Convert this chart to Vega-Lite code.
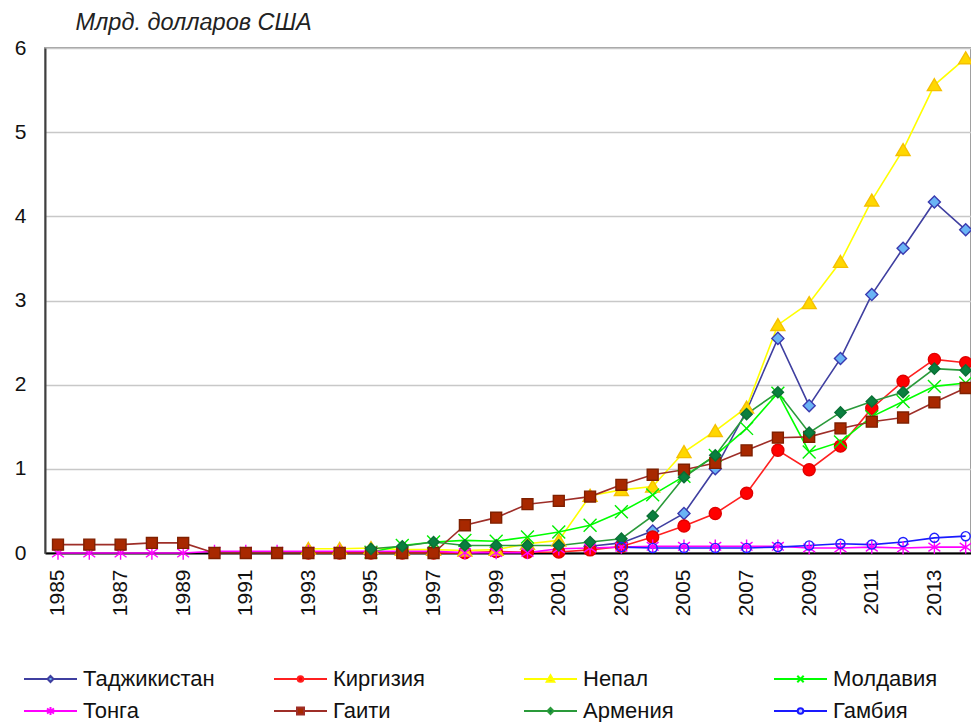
{
  "$schema": "https://vega.github.io/schema/vega-lite/v6.json",
  "autosize": {"type": "none"},
  "padding": {"left": 45, "top": 48, "right": 0, "bottom": 169},
  "width": 926,
  "height": 505,
  "background": "white",
  "config": {
    "view": {"stroke": "#A0A0A0", "strokeWidth": 2},
    "font": "Liberation Sans",
    "legend": {
      "title": null,
      "orient": "none",
      "legendX": -5.5,
      "legendY": 620,
      "direction": "horizontal",
      "columns": 4,
      "gridAlign": "all",
      "columnPadding": 54,
      "rowPadding": 10,
      "padding": 0,
      "symbolSize": 400,
      "symbolStrokeWidth": 2,
      "symbolFillColor": "transparent",
      "symbolStrokeColor": "black",
      "symbolOpacity": 1,
      "labelFont": "Liberation Sans",
      "labelFontSize": 22,
      "labelColor": "#111111",
      "labelOffset": 21.5,
      "labelLimit": 300
    }
  },
  "datasets": {
    "d": [
      {"country": "Таджикистан", "year": 2002, "value": 0.08},
      {"country": "Таджикистан", "year": 2003, "value": 0.12},
      {"country": "Таджикистан", "year": 2004, "value": 0.26},
      {"country": "Таджикистан", "year": 2005, "value": 0.47},
      {"country": "Таджикистан", "year": 2006, "value": 1.0},
      {"country": "Таджикистан", "year": 2007, "value": 1.69},
      {"country": "Таджикистан", "year": 2008, "value": 2.55},
      {"country": "Таджикистан", "year": 2009, "value": 1.75},
      {"country": "Таджикистан", "year": 2010, "value": 2.31},
      {"country": "Таджикистан", "year": 2011, "value": 3.07},
      {"country": "Таджикистан", "year": 2012, "value": 3.62},
      {"country": "Таджикистан", "year": 2013, "value": 4.17},
      {"country": "Таджикистан", "year": 2014, "value": 3.84},

      {"country": "Киргизия", "year": 1993, "value": 0.001},
      {"country": "Киргизия", "year": 1994, "value": 0.001},
      {"country": "Киргизия", "year": 1995, "value": 0.001},
      {"country": "Киргизия", "year": 1996, "value": 0.001},
      {"country": "Киргизия", "year": 1997, "value": 0.001},
      {"country": "Киргизия", "year": 1998, "value": 0.002},
      {"country": "Киргизия", "year": 1999, "value": 0.018},
      {"country": "Киргизия", "year": 2000, "value": 0.009},
      {"country": "Киргизия", "year": 2001, "value": 0.011},
      {"country": "Киргизия", "year": 2002, "value": 0.037},
      {"country": "Киргизия", "year": 2003, "value": 0.078},
      {"country": "Киргизия", "year": 2004, "value": 0.19},
      {"country": "Киргизия", "year": 2005, "value": 0.32},
      {"country": "Киргизия", "year": 2006, "value": 0.47},
      {"country": "Киргизия", "year": 2007, "value": 0.71},
      {"country": "Киргизия", "year": 2008, "value": 1.22},
      {"country": "Киргизия", "year": 2009, "value": 0.99},
      {"country": "Киргизия", "year": 2010, "value": 1.27},
      {"country": "Киргизия", "year": 2011, "value": 1.72},
      {"country": "Киргизия", "year": 2012, "value": 2.04},
      {"country": "Киргизия", "year": 2013, "value": 2.3},
      {"country": "Киргизия", "year": 2014, "value": 2.26},

      {"country": "Непал", "year": 1993, "value": 0.05},
      {"country": "Непал", "year": 1994, "value": 0.05},
      {"country": "Непал", "year": 1995, "value": 0.06},
      {"country": "Непал", "year": 1996, "value": 0.04},
      {"country": "Непал", "year": 1997, "value": 0.04},
      {"country": "Непал", "year": 1998, "value": 0.03},
      {"country": "Непал", "year": 1999, "value": 0.04},
      {"country": "Непал", "year": 2000, "value": 0.11},
      {"country": "Непал", "year": 2001, "value": 0.15},
      {"country": "Непал", "year": 2002, "value": 0.68},
      {"country": "Непал", "year": 2003, "value": 0.75},
      {"country": "Непал", "year": 2004, "value": 0.79},
      {"country": "Непал", "year": 2005, "value": 1.2},
      {"country": "Непал", "year": 2006, "value": 1.45},
      {"country": "Непал", "year": 2007, "value": 1.73},
      {"country": "Непал", "year": 2008, "value": 2.71},
      {"country": "Непал", "year": 2009, "value": 2.97},
      {"country": "Непал", "year": 2010, "value": 3.46},
      {"country": "Непал", "year": 2011, "value": 4.19},
      {"country": "Непал", "year": 2012, "value": 4.79},
      {"country": "Непал", "year": 2013, "value": 5.56},
      {"country": "Непал", "year": 2014, "value": 5.88},

      {"country": "Молдавия", "year": 1995, "value": 0.01},
      {"country": "Молдавия", "year": 1996, "value": 0.09},
      {"country": "Молдавия", "year": 1997, "value": 0.13},
      {"country": "Молдавия", "year": 1998, "value": 0.15},
      {"country": "Молдавия", "year": 1999, "value": 0.14},
      {"country": "Молдавия", "year": 2000, "value": 0.19},
      {"country": "Молдавия", "year": 2001, "value": 0.25},
      {"country": "Молдавия", "year": 2002, "value": 0.33},
      {"country": "Молдавия", "year": 2003, "value": 0.49},
      {"country": "Молдавия", "year": 2004, "value": 0.69},
      {"country": "Молдавия", "year": 2005, "value": 0.91},
      {"country": "Молдавия", "year": 2006, "value": 1.16},
      {"country": "Молдавия", "year": 2007, "value": 1.48},
      {"country": "Молдавия", "year": 2008, "value": 1.9},
      {"country": "Молдавия", "year": 2009, "value": 1.2},
      {"country": "Молдавия", "year": 2010, "value": 1.32},
      {"country": "Молдавия", "year": 2011, "value": 1.62},
      {"country": "Молдавия", "year": 2012, "value": 1.8},
      {"country": "Молдавия", "year": 2013, "value": 1.98},
      {"country": "Молдавия", "year": 2014, "value": 2.02},

      {"country": "Тонга", "year": 1985, "value": 0.0},
      {"country": "Тонга", "year": 1986, "value": 0.0},
      {"country": "Тонга", "year": 1987, "value": 0.0},
      {"country": "Тонга", "year": 1988, "value": 0.0},
      {"country": "Тонга", "year": 1989, "value": 0.0},
      {"country": "Тонга", "year": 1990, "value": 0.02},
      {"country": "Тонга", "year": 1991, "value": 0.02},
      {"country": "Тонга", "year": 1992, "value": 0.02},
      {"country": "Тонга", "year": 1993, "value": 0.02},
      {"country": "Тонга", "year": 1994, "value": 0.02},
      {"country": "Тонга", "year": 1995, "value": 0.02},
      {"country": "Тонга", "year": 1996, "value": 0.02},
      {"country": "Тонга", "year": 1997, "value": 0.02},
      {"country": "Тонга", "year": 1998, "value": 0.005},
      {"country": "Тонга", "year": 1999, "value": 0.005},
      {"country": "Тонга", "year": 2000, "value": 0.005},
      {"country": "Тонга", "year": 2001, "value": 0.05},
      {"country": "Тонга", "year": 2002, "value": 0.06},
      {"country": "Тонга", "year": 2003, "value": 0.07},
      {"country": "Тонга", "year": 2004, "value": 0.08},
      {"country": "Тонга", "year": 2005, "value": 0.08},
      {"country": "Тонга", "year": 2006, "value": 0.08},
      {"country": "Тонга", "year": 2007, "value": 0.08},
      {"country": "Тонга", "year": 2008, "value": 0.08},
      {"country": "Тонга", "year": 2009, "value": 0.06},
      {"country": "Тонга", "year": 2010, "value": 0.06},
      {"country": "Тонга", "year": 2011, "value": 0.07},
      {"country": "Тонга", "year": 2012, "value": 0.06},
      {"country": "Тонга", "year": 2013, "value": 0.07},
      {"country": "Тонга", "year": 2014, "value": 0.07},

      {"country": "Гаити", "year": 1985, "value": 0.1},
      {"country": "Гаити", "year": 1986, "value": 0.1},
      {"country": "Гаити", "year": 1987, "value": 0.1},
      {"country": "Гаити", "year": 1988, "value": 0.12},
      {"country": "Гаити", "year": 1989, "value": 0.12},
      {"country": "Гаити", "year": 1990, "value": 0.0},
      {"country": "Гаити", "year": 1991, "value": 0.0},
      {"country": "Гаити", "year": 1992, "value": 0.0},
      {"country": "Гаити", "year": 1993, "value": 0.0},
      {"country": "Гаити", "year": 1994, "value": 0.0},
      {"country": "Гаити", "year": 1995, "value": 0.0},
      {"country": "Гаити", "year": 1996, "value": 0.0},
      {"country": "Гаити", "year": 1997, "value": 0.0},
      {"country": "Гаити", "year": 1998, "value": 0.33},
      {"country": "Гаити", "year": 1999, "value": 0.42},
      {"country": "Гаити", "year": 2000, "value": 0.58},
      {"country": "Гаити", "year": 2001, "value": 0.62},
      {"country": "Гаити", "year": 2002, "value": 0.67},
      {"country": "Гаити", "year": 2003, "value": 0.81},
      {"country": "Гаити", "year": 2004, "value": 0.93},
      {"country": "Гаити", "year": 2005, "value": 0.99},
      {"country": "Гаити", "year": 2006, "value": 1.07},
      {"country": "Гаити", "year": 2007, "value": 1.22},
      {"country": "Гаити", "year": 2008, "value": 1.37},
      {"country": "Гаити", "year": 2009, "value": 1.38},
      {"country": "Гаити", "year": 2010, "value": 1.48},
      {"country": "Гаити", "year": 2011, "value": 1.56},
      {"country": "Гаити", "year": 2012, "value": 1.61},
      {"country": "Гаити", "year": 2013, "value": 1.79},
      {"country": "Гаити", "year": 2014, "value": 1.96},

      {"country": "Армения", "year": 1995, "value": 0.05},
      {"country": "Армения", "year": 1996, "value": 0.08},
      {"country": "Армения", "year": 1997, "value": 0.13},
      {"country": "Армения", "year": 1998, "value": 0.09},
      {"country": "Армения", "year": 1999, "value": 0.09},
      {"country": "Армения", "year": 2000, "value": 0.09},
      {"country": "Армения", "year": 2001, "value": 0.09},
      {"country": "Армения", "year": 2002, "value": 0.13},
      {"country": "Армения", "year": 2003, "value": 0.17},
      {"country": "Армения", "year": 2004, "value": 0.44},
      {"country": "Армения", "year": 2005, "value": 0.9},
      {"country": "Армения", "year": 2006, "value": 1.16},
      {"country": "Армения", "year": 2007, "value": 1.65},
      {"country": "Армения", "year": 2008, "value": 1.91},
      {"country": "Армения", "year": 2009, "value": 1.43},
      {"country": "Армения", "year": 2010, "value": 1.67},
      {"country": "Армения", "year": 2011, "value": 1.8},
      {"country": "Армения", "year": 2012, "value": 1.91},
      {"country": "Армения", "year": 2013, "value": 2.19},
      {"country": "Армения", "year": 2014, "value": 2.17},

      {"country": "Гамбия", "year": 2003, "value": 0.07},
      {"country": "Гамбия", "year": 2004, "value": 0.06},
      {"country": "Гамбия", "year": 2005, "value": 0.06},
      {"country": "Гамбия", "year": 2006, "value": 0.06},
      {"country": "Гамбия", "year": 2007, "value": 0.06},
      {"country": "Гамбия", "year": 2008, "value": 0.07},
      {"country": "Гамбия", "year": 2009, "value": 0.09},
      {"country": "Гамбия", "year": 2010, "value": 0.11},
      {"country": "Гамбия", "year": 2011, "value": 0.1},
      {"country": "Гамбия", "year": 2012, "value": 0.13},
      {"country": "Гамбия", "year": 2013, "value": 0.18},
      {"country": "Гамбия", "year": 2014, "value": 0.2}
    ]
  },
  "data": {"name": "d"},
  "encoding": {
    "x": {
      "field": "year",
      "type": "quantitative",
      "scale": {"domain": [1984.585, 2014.17], "nice": false, "zero": false},
      "axis": {
        "title": null,
        "values": [1985, 1987, 1989, 1991, 1993, 1995, 1997, 1999, 2001, 2003, 2005, 2007, 2009, 2011, 2013],
        "format": "d",
        "labelAngle": -90,
        "labelFont": "Liberation Sans",
        "labelFontSize": 21,
        "labelColor": "#111111",
        "labelPadding": 16,
        "ticks": false,
        "grid": false,
        "domainColor": "#000000",
        "domainWidth": 2,
        "labelOverlap": false
      }
    },
    "y": {
      "field": "value",
      "type": "quantitative",
      "scale": {"domain": [0, 6], "nice": false},
      "axis": {
        "title": "Млрд. долларов США",
        "titleAngle": 0,
        "titleAlign": "left",
        "titleBaseline": "alphabetic",
        "titleX": 30,
        "titleY": -19,
        "titleFont": "Liberation Sans",
        "titleFontSize": 23.5,
        "titleFontStyle": "italic",
        "titleFontWeight": "normal",
        "titleColor": "#222222",
        "values": [0, 1, 2, 3, 4, 5, 6],
        "labelFont": "Liberation Sans",
        "labelFontSize": 21,
        "labelColor": "#111111",
        "labelPadding": 19,
        "ticks": false,
        "grid": true,
        "gridColor": "#C8C8C8",
        "gridWidth": 1.5,
        "domainColor": "#404040",
        "domainWidth": 2
      }
    }
  },
  "layer": [
    {
      "mark": {"type": "line", "strokeWidth": 1.6},
      "encoding": {
        "color": {
          "field": "country",
          "type": "nominal",
          "scale": {
            "domain": ["Таджикистан", "Киргизия", "Непал", "Молдавия", "Тонга", "Гаити", "Армения", "Гамбия"],
            "range": ["#3F3FA0", "#FF2020", "#FFFF00", "#00FF00", "#FF00FF", "#9E2E28", "#2A9A3A", "#1A1AFF"]
          },
          "legend": null
        }
      }
    },
    {
      "mark": {"type": "point", "filled": true, "size": 196, "strokeWidth": 1.4, "opacity": 1},
      "encoding": {
        "shape": {
          "field": "country",
          "type": "nominal",
          "scale": {
            "domain": ["Таджикистан", "Киргизия", "Непал", "Молдавия", "Тонга", "Гаити", "Армения", "Гамбия"],
            "range": [
              "M0,-0.86L0.86,0L0,0.86L-0.86,0Z",
              "M0.86,0A0.86,0.86,0,1,1,-0.86,0A0.86,0.86,0,1,1,0.86,0Z",
              "M0,-0.9L1,0.8L-1,0.8Z",
              "M-0.92,-0.92L0.92,0.92M-0.92,0.92L0.92,-0.92",
              "M0,-0.95L0,0.95M-0.85,-0.6L0.85,0.6M-0.85,0.6L0.85,-0.6",
              "M-0.78,-0.78L0.78,-0.78L0.78,0.78L-0.78,0.78Z",
              "M0,-0.8L0.8,0L0,0.8L-0.8,0Z",
              "M0.65,0A0.65,0.65,0,1,1,-0.65,0A0.65,0.65,0,1,1,0.65,0Z"
            ]
          },
          "legend": null
        },
        "fill": {
          "field": "country",
          "type": "nominal",
          "scale": {
            "domain": ["Таджикистан", "Киргизия", "Непал", "Молдавия", "Тонга", "Гаити", "Армения", "Гамбия"],
            "range": ["#6AB4F5", "#FF0000", "#FFD700", "transparent", "transparent", "#A82800", "#0A7F3F", "transparent"]
          },
          "legend": null
        },
        "stroke": {
          "field": "country",
          "type": "nominal",
          "scale": {
            "domain": ["Таджикистан", "Киргизия", "Непал", "Молдавия", "Тонга", "Гаити", "Армения", "Гамбия"],
            "range": ["#3A3AB0", "#E00000", "#F5C000", "#00EE00", "#FF00FF", "#7F2000", "#0A6F35", "#2020FF"]
          },
          "legend": null
        }
      }
    },
    {
      "mark": {"type": "point", "filled": true, "size": 400, "strokeWidth": 2, "opacity": 0},
      "encoding": {
        "shape": {
          "field": "country",
          "type": "nominal",
          "scale": {
            "domain": ["Таджикистан", "Киргизия", "Непал", "Молдавия", "Тонга", "Гаити", "Армения", "Гамбия"],
            "range": [
              "M-2.65,0L-0.3,0M0.3,0L2.65,0M0,-0.3L0.3,0L0,0.3L-0.3,0Z",
              "M-2.65,0L-0.28,0M0.28,0L2.65,0M0.28,0A0.28,0.28,0,1,1,-0.28,0A0.28,0.28,0,1,1,0.28,0Z",
              "M-2.65,0L2.65,0M0,-0.38L0.38,0.28L-0.38,0.28Z",
              "M-2.65,0L2.65,0M-0.32,-0.32L0.32,0.32M-0.32,0.32L0.32,-0.32",
              "M-2.65,0L2.65,0M0,-0.4L0,0.4M-0.35,-0.25L0.35,0.25M-0.35,0.25L0.35,-0.25",
              "M-2.65,0L-0.35,0M0.35,0L2.65,0M-0.35,-0.35L0.35,-0.35L0.35,0.35L-0.35,0.35Z",
              "M-2.65,0L-0.3,0M0.3,0L2.65,0M0,-0.3L0.3,0L0,0.3L-0.3,0Z",
              "M-2.65,0L-0.28,0M0.28,0L2.65,0M0.28,0A0.28,0.28,0,1,1,-0.28,0A0.28,0.28,0,1,1,0.28,0Z"
            ]
          },
          "legend": {"title": null}
        },
        "fill": {
          "field": "country",
          "type": "nominal",
          "scale": {
            "domain": ["Таджикистан", "Киргизия", "Непал", "Молдавия", "Тонга", "Гаити", "Армения", "Гамбия"],
            "range": ["#6AB4F5", "#FF0000", "#FFD700", "transparent", "transparent", "#A82800", "#0A7F3F", "#C0C8FF"]
          },
          "legend": {"title": null}
        },
        "stroke": {
          "field": "country",
          "type": "nominal",
          "scale": {
            "domain": ["Таджикистан", "Киргизия", "Непал", "Молдавия", "Тонга", "Гаити", "Армения", "Гамбия"],
            "range": ["#3F3FA0", "#FF2020", "#FFFF00", "#00FF00", "#FF00FF", "#9E2E28", "#2A9A3A", "#1A1AFF"]
          },
          "legend": {"title": null}
        }
      }
    }
  ],
  "resolve": {"scale": {"shape": "independent", "fill": "independent", "stroke": "independent"}}
}
